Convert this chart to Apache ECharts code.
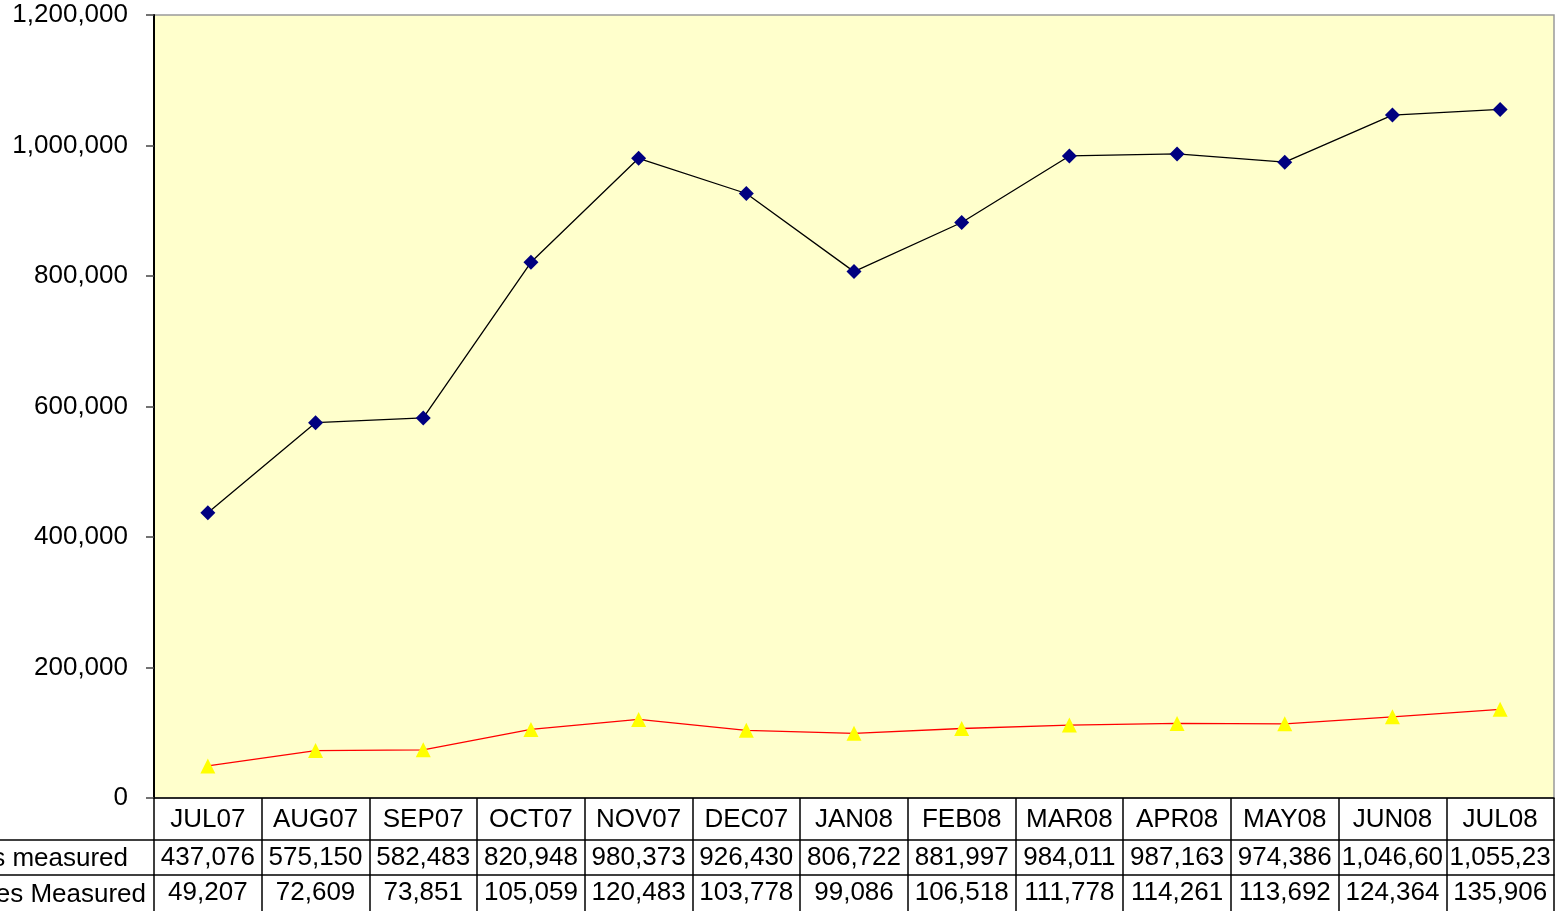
<!DOCTYPE html>
<html>
<head>
<meta charset="utf-8">
<script src="https://cdn.jsdelivr.net/npm/echarts@6/dist/echarts.min.js"></script>
<style>
html,body{margin:0;padding:0;background:#fff;}
#c{width:1560px;height:911px;}
</style>
</head>
<body>
<div id="c"></div>
<script>
const categories = ['JUL07','AUG07','SEP07','OCT07','NOV07','DEC07','JAN08','FEB08','MAR08','APR08','MAY08','JUN08','JUL08'];
const seriesNames = ['Pages measured', 'Sites Measured'];
const pagesMeasured = [437076, 575150, 582483, 820948, 980373, 926430, 806722, 881997, 984011, 987163, 974386, 1046600, 1055230];
const sitesMeasured = [49207, 72609, 73851, 105059, 120483, 103778, 99086, 106518, 111778, 114261, 113692, 124364, 135906];
const yTicks = [0, 200000, 400000, 600000, 800000, 1000000, 1200000];

const FONT = 'Liberation Sans, Arial, sans-serif';
const FS = 26;
const fmt = v => Number(v).toLocaleString('en-US');
const chart = echarts.init(document.getElementById('c'), null, {renderer: 'canvas'});

function tableAxis(offset, tickLen, margin, values) {
  return {
    type: 'category',
    data: categories,
    position: 'bottom',
    offset: offset,
    boundaryGap: true,
    axisLine: {show: true, lineStyle: {color: '#000', width: 1.5}},
    axisTick: {show: true, length: tickLen, interval: 0, lineStyle: {color: '#000', width: 1.5}},
    axisLabel: {
      interval: 0, margin: margin, verticalAlign: 'middle',
      color: '#000', fontFamily: FONT, fontSize: FS,
      width: 106, overflow: 'truncate', ellipsis: '',
      formatter: values ? ((v, i) => fmt(values[i])) : (v => v)
    },
    splitLine: {show: false}
  };
}

chart.setOption({
  animation: false,
  grid: {left: 154, right: 6, top: 15, bottom: 113, show: true, backgroundColor: '#FFFFCC', borderColor: '#9a9a9a', borderWidth: 1.5},
  xAxis: [
    tableAxis(0, 42, 22, null),
    tableAxis(42, 35, 18, pagesMeasured),
    tableAxis(77, 40, 18, sitesMeasured)
  ],
  yAxis: {
    type: 'value', min: yTicks[0], max: yTicks[yTicks.length - 1], interval: yTicks[1] - yTicks[0],
    axisLine: {show: true, lineStyle: {color: '#000', width: 2}},
    axisTick: {show: true, length: 8, lineStyle: {color: '#444', width: 1.5}},
    axisLabel: {margin: 26, color: '#000', fontFamily: FONT, fontSize: FS, padding: [4, 0, 0, 0], formatter: v => fmt(v)},
    splitLine: {show: false}
  },
  series: [
    {
      name: seriesNames[0], type: 'line', data: pagesMeasured, xAxisIndex: 0,
      symbol: 'diamond', symbolSize: 15,
      lineStyle: {color: '#000', width: 1.3},
      itemStyle: {color: '#000080', borderWidth: 0}
    },
    {
      name: seriesNames[1], type: 'line', data: sitesMeasured, xAxisIndex: 0,
      symbol: 'triangle', symbolSize: 15,
      lineStyle: {color: '#ff0000', width: 1.3},
      itemStyle: {color: '#ffff00', borderWidth: 0}
    }
  ],
  graphic: [
    {type: 'line', shape: {x1: 0, y1: 840, x2: 154, y2: 840}, style: {stroke: '#000', lineWidth: 1.5}},
    {type: 'line', shape: {x1: 0, y1: 875, x2: 154, y2: 875}, style: {stroke: '#000', lineWidth: 1.5}},
    {type: 'text', right: 1560 - 128, top: 846, style: {text: seriesNames[0], fontFamily: FONT, fontSize: FS, fill: '#000', textAlign: 'right'}},
    {type: 'text', right: 1560 - 146, top: 882, style: {text: seriesNames[1], fontFamily: FONT, fontSize: FS, fill: '#000', textAlign: 'right'}}
  ]
});
</script>
</body>
</html>
